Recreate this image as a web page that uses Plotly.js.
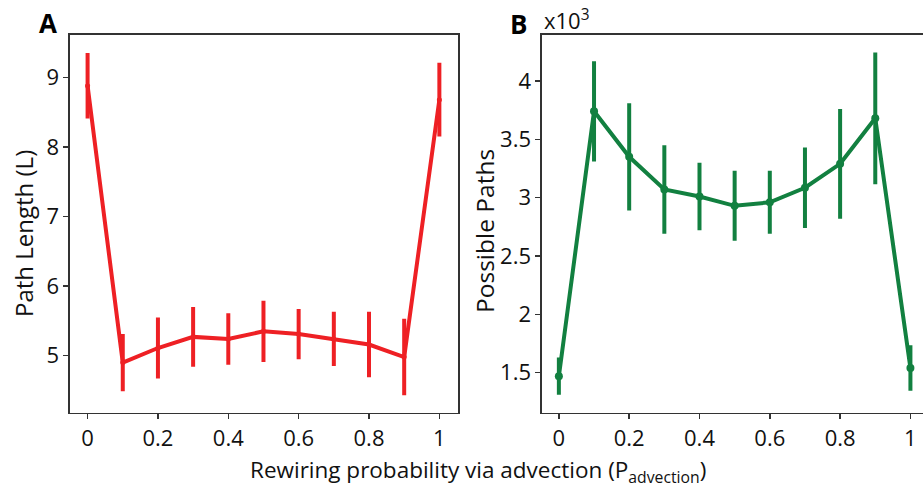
<!DOCTYPE html>
<html>
<head>
<meta charset="utf-8">
<script src="https://cdn.plot.ly/plotly-3.0.1.min.js"></script>
<style>
  html, body { margin: 0; padding: 0; overflow: hidden; background: #fff; }
  #chart { width: 935px; height: 491px; }
</style>
</head>
<body>
<div id="chart"></div>
<script>
// Rewiring probability via advection
const pAdvection = [0, 0.1, 0.2, 0.3, 0.4, 0.5, 0.6, 0.7, 0.8, 0.9, 1.0];
// Panel A: path length (L)
const pathLength = [8.88, 4.90, 5.11, 5.27, 5.24, 5.35, 5.31, 5.24, 5.16, 4.98, 8.68];
const pathLengthErr = [0.47, 0.41, 0.44, 0.43, 0.37, 0.44, 0.36, 0.39, 0.47, 0.55, 0.53];
// Panel B: possible paths (in thousands, x10^3)
const possiblePaths = [1.47, 3.74, 3.35, 3.07, 3.01, 2.93, 2.96, 3.085, 3.29, 3.68, 1.54];
const possiblePathsErr = [0.16, 0.43, 0.46, 0.38, 0.29, 0.30, 0.27, 0.345, 0.47, 0.565, 0.195];
const xTicks = [0, 0.2, 0.4, 0.6, 0.8, 1];
const xTickText = ['0', '0.2', '0.4', '0.6', '0.8', '1'];
const yTicksA = [5, 6, 7, 8, 9];
const yTicksB = [1.5, 2, 2.5, 3, 3.5, 4];
const yTickTextB = ['1.5', '2', '2.5', '3', '3.5', '4'];

const red = '#ee2024';
const green = '#128040';
const W = 935, H = 491;
const FONT = 'Open Sans, DejaVu Sans, sans-serif';

const traces = [
  {
    x: pAdvection, y: pathLength, type: 'scatter', mode: 'lines+markers',
    line: {color: red, width: 4}, marker: {color: red, size: 5},
    error_y: {type: 'data', array: pathLengthErr, visible: true, color: red, thickness: 4, width: 0},
    xaxis: 'x', yaxis: 'y', showlegend: false
  },
  {
    x: pAdvection, y: possiblePaths, type: 'scatter', mode: 'lines+markers',
    line: {color: green, width: 4}, marker: {color: green, size: 8},
    error_y: {type: 'data', array: possiblePathsErr, visible: true, color: green, thickness: 4, width: 0},
    xaxis: 'x2', yaxis: 'y2', showlegend: false
  }
];

const axisCommon = {
  showline: true, linecolor: '#333', linewidth: 1.6, mirror: true,
  ticks: 'outside', ticklen: 5, tickwidth: 1.6, tickcolor: '#333',
  showgrid: false, zeroline: false,
  tickfont: {family: FONT, size: 22, color: '#111'}
};

const yDom = [1 - 412.7 / H, 1 - 35 / H];

function pa(text, x, y, size, extra) {
  return Object.assign({
    text: text, x: x / W, y: 1 - y / H, xref: 'paper', yref: 'paper',
    showarrow: false, xanchor: 'center', yanchor: 'middle',
    font: {family: FONT, size: size, color: '#111'}
  }, extra || {});
}

const layout = {
  width: W, height: H,
  margin: {l: 0, r: 0, t: 0, b: 0},
  paper_bgcolor: '#fff', plot_bgcolor: '#fff',
  font: {family: FONT, color: '#111'},
  xaxis: Object.assign({}, axisCommon, {
    domain: [70 / W, 458 / W], range: [-0.05, 1.053],
    tickvals: xTicks, ticktext: xTickText, anchor: 'y'
  }),
  yaxis: Object.assign({}, axisCommon, {
    domain: yDom, range: [4.18, 9.61], tickvals: yTicksA, anchor: 'x'
  }),
  xaxis2: Object.assign({}, axisCommon, {
    domain: [542 / W, 928 / W], range: [-0.048, 1.05],
    tickvals: xTicks, ticktext: xTickText, anchor: 'y2'
  }),
  yaxis2: Object.assign({}, axisCommon, {
    domain: yDom, range: [1.157, 4.394], tickvals: yTicksB, ticktext: yTickTextB, anchor: 'x2'
  }),
  annotations: [
    pa('<b>A</b>', 48, 23, 26, {font: {family: FONT, size: 26, color: '#000'}}),
    pa('<b>B</b>', 518, 24, 26, {font: {family: FONT, size: 26, color: '#000'}}),
    pa('x10<sup>3</sup>', 542, 37, 22, {xanchor: 'left', yanchor: 'bottom'}),
    pa('Path Length (L)', 23, 234, 24, {textangle: -90}),
    pa('Possible Paths', 484, 231, 24.5, {textangle: -90}),
    pa('Rewiring probability via advection (P<sub>advection</sub>)', 478, 471, 22.5)
  ]
};

Plotly.newPlot('chart', traces, layout, {displayModeBar: false, staticPlot: true});
</script>
</body>
</html>
